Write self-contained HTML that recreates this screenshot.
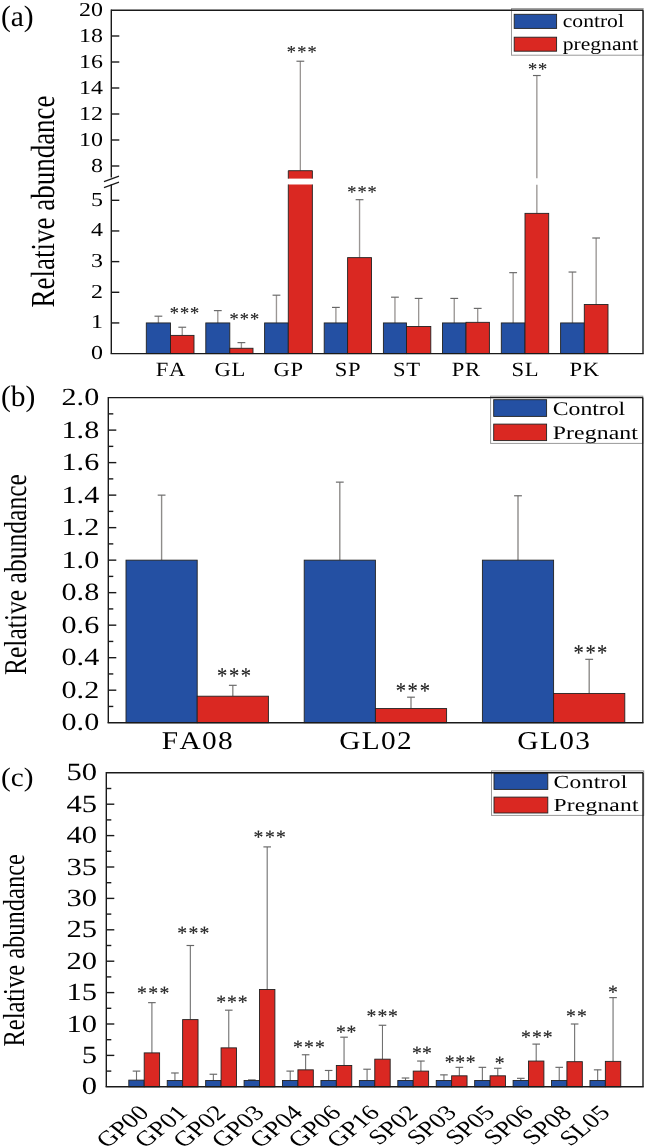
<!DOCTYPE html>
<html><head><meta charset="utf-8"><style>
html,body{margin:0;padding:0;background:#fff;}
svg{display:block;will-change:transform;font-kerning:none;text-rendering:geometricPrecision;font-family:"Liberation Serif",serif;}
</style></head><body>
<svg width="645" height="1148" viewBox="0 0 645 1148">
<rect width="645" height="1148" fill="#fff"/>
<text transform="translate(102.90,359.10) scale(1.21,1)" font-size="19.8" text-anchor="end" fill="#000">0</text>
<line x1="111.30" y1="322.94" x2="119.30" y2="322.94" stroke="#1a1a1a" stroke-width="1.4"/>
<text transform="translate(102.90,328.44) scale(1.21,1)" font-size="19.8" text-anchor="end" fill="#000">1</text>
<line x1="111.30" y1="292.28" x2="119.30" y2="292.28" stroke="#1a1a1a" stroke-width="1.4"/>
<text transform="translate(102.90,297.78) scale(1.21,1)" font-size="19.8" text-anchor="end" fill="#000">2</text>
<line x1="111.30" y1="261.62" x2="119.30" y2="261.62" stroke="#1a1a1a" stroke-width="1.4"/>
<text transform="translate(102.90,267.12) scale(1.21,1)" font-size="19.8" text-anchor="end" fill="#000">3</text>
<line x1="111.30" y1="230.96" x2="119.30" y2="230.96" stroke="#1a1a1a" stroke-width="1.4"/>
<text transform="translate(102.90,236.46) scale(1.21,1)" font-size="19.8" text-anchor="end" fill="#000">4</text>
<line x1="111.30" y1="200.30" x2="119.30" y2="200.30" stroke="#1a1a1a" stroke-width="1.4"/>
<text transform="translate(102.90,205.80) scale(1.21,1)" font-size="19.8" text-anchor="end" fill="#000">5</text>
<line x1="111.30" y1="166.00" x2="119.30" y2="166.00" stroke="#1a1a1a" stroke-width="1.4"/>
<text transform="translate(102.90,171.50) scale(1.21,1)" font-size="19.8" text-anchor="end" fill="#000">8</text>
<line x1="111.30" y1="140.00" x2="119.30" y2="140.00" stroke="#1a1a1a" stroke-width="1.4"/>
<text transform="translate(102.90,145.50) scale(1.21,1)" font-size="19.8" text-anchor="end" fill="#000">10</text>
<line x1="111.30" y1="114.00" x2="119.30" y2="114.00" stroke="#1a1a1a" stroke-width="1.4"/>
<text transform="translate(102.90,119.50) scale(1.21,1)" font-size="19.8" text-anchor="end" fill="#000">12</text>
<line x1="111.30" y1="88.00" x2="119.30" y2="88.00" stroke="#1a1a1a" stroke-width="1.4"/>
<text transform="translate(102.90,93.50) scale(1.21,1)" font-size="19.8" text-anchor="end" fill="#000">14</text>
<line x1="111.30" y1="62.00" x2="119.30" y2="62.00" stroke="#1a1a1a" stroke-width="1.4"/>
<text transform="translate(102.90,67.50) scale(1.21,1)" font-size="19.8" text-anchor="end" fill="#000">16</text>
<line x1="111.30" y1="36.00" x2="119.30" y2="36.00" stroke="#1a1a1a" stroke-width="1.4"/>
<text transform="translate(102.90,41.50) scale(1.21,1)" font-size="19.8" text-anchor="end" fill="#000">18</text>
<text transform="translate(102.90,15.70) scale(1.21,1)" font-size="19.8" text-anchor="end" fill="#000">20</text>
<line x1="158.40" y1="322.94" x2="158.40" y2="316.19" stroke="#9a9694" stroke-width="1.35"/>
<line x1="154.50" y1="316.19" x2="162.30" y2="316.19" stroke="#666666" stroke-width="1.15"/>
<line x1="182.25" y1="335.39" x2="182.25" y2="327.23" stroke="#9a9694" stroke-width="1.35"/>
<line x1="178.35" y1="327.23" x2="186.15" y2="327.23" stroke="#666666" stroke-width="1.15"/>
<rect x="146.30" y="322.94" width="24.20" height="30.66" fill="#2450a3" stroke="#222" stroke-width="0.9"/>
<rect x="170.50" y="335.39" width="23.50" height="18.21" fill="#da2822" stroke="#222" stroke-width="0.9"/>
<text transform="translate(170.84,376.40) scale(1.12,1)" font-size="20.2" text-anchor="middle" fill="#000" letter-spacing="0.6">FA</text>
<line x1="217.80" y1="322.94" x2="217.80" y2="310.61" stroke="#9a9694" stroke-width="1.35"/>
<line x1="213.90" y1="310.61" x2="221.70" y2="310.61" stroke="#666666" stroke-width="1.15"/>
<line x1="241.40" y1="348.27" x2="241.40" y2="342.62" stroke="#9a9694" stroke-width="1.35"/>
<line x1="237.50" y1="342.62" x2="245.30" y2="342.62" stroke="#666666" stroke-width="1.15"/>
<rect x="205.80" y="322.94" width="24.00" height="30.66" fill="#2450a3" stroke="#222" stroke-width="0.9"/>
<rect x="229.80" y="348.27" width="23.20" height="5.33" fill="#da2822" stroke="#222" stroke-width="0.9"/>
<text transform="translate(230.14,376.40) scale(1.12,1)" font-size="20.2" text-anchor="middle" fill="#000" letter-spacing="0.6">GL</text>
<line x1="276.45" y1="322.94" x2="276.45" y2="295.19" stroke="#9a9694" stroke-width="1.35"/>
<line x1="272.55" y1="295.19" x2="280.35" y2="295.19" stroke="#666666" stroke-width="1.15"/>
<line x1="300.35" y1="170.68" x2="300.35" y2="61.22" stroke="#9a9694" stroke-width="1.35"/>
<line x1="296.45" y1="61.22" x2="304.25" y2="61.22" stroke="#666666" stroke-width="1.15"/>
<rect x="264.60" y="322.94" width="23.70" height="30.66" fill="#2450a3" stroke="#222" stroke-width="0.9"/>
<rect x="288.30" y="170.68" width="24.10" height="7.92" fill="#da2822" stroke="none" stroke-width="0.9"/>
<rect x="288.30" y="184.50" width="24.10" height="169.10" fill="#da2822" stroke="none" stroke-width="0.9"/>
<line x1="288.30" y1="170.68" x2="312.40" y2="170.68" stroke="#222" stroke-width="0.9"/>
<line x1="288.30" y1="170.68" x2="288.30" y2="178.60" stroke="#222" stroke-width="0.9"/>
<line x1="288.30" y1="184.50" x2="288.30" y2="353.60" stroke="#222" stroke-width="0.9"/>
<line x1="312.40" y1="170.68" x2="312.40" y2="178.60" stroke="#222" stroke-width="0.9"/>
<line x1="312.40" y1="184.50" x2="312.40" y2="353.60" stroke="#222" stroke-width="0.9"/>
<text transform="translate(288.64,376.40) scale(1.12,1)" font-size="20.2" text-anchor="middle" fill="#000" letter-spacing="0.6">GP</text>
<line x1="335.90" y1="322.94" x2="335.90" y2="307.40" stroke="#9a9694" stroke-width="1.35"/>
<line x1="332.00" y1="307.40" x2="339.80" y2="307.40" stroke="#666666" stroke-width="1.15"/>
<line x1="359.55" y1="257.63" x2="359.55" y2="199.69" stroke="#9a9694" stroke-width="1.35"/>
<line x1="355.65" y1="199.69" x2="363.45" y2="199.69" stroke="#666666" stroke-width="1.15"/>
<rect x="324.20" y="322.94" width="23.40" height="30.66" fill="#2450a3" stroke="#222" stroke-width="0.9"/>
<rect x="347.60" y="257.63" width="23.90" height="95.97" fill="#da2822" stroke="#222" stroke-width="0.9"/>
<text transform="translate(347.94,376.40) scale(1.12,1)" font-size="20.2" text-anchor="middle" fill="#000" letter-spacing="0.6">SP</text>
<line x1="394.95" y1="322.94" x2="394.95" y2="297.19" stroke="#9a9694" stroke-width="1.35"/>
<line x1="391.05" y1="297.19" x2="398.85" y2="297.19" stroke="#666666" stroke-width="1.15"/>
<line x1="418.65" y1="326.50" x2="418.65" y2="298.41" stroke="#9a9694" stroke-width="1.35"/>
<line x1="414.75" y1="298.41" x2="422.55" y2="298.41" stroke="#666666" stroke-width="1.15"/>
<rect x="383.40" y="322.94" width="23.10" height="30.66" fill="#2450a3" stroke="#222" stroke-width="0.9"/>
<rect x="406.50" y="326.50" width="24.30" height="27.10" fill="#da2822" stroke="#222" stroke-width="0.9"/>
<text transform="translate(406.84,376.40) scale(1.12,1)" font-size="20.2" text-anchor="middle" fill="#000" letter-spacing="0.6">ST</text>
<line x1="454.25" y1="322.94" x2="454.25" y2="298.41" stroke="#9a9694" stroke-width="1.35"/>
<line x1="450.35" y1="298.41" x2="458.15" y2="298.41" stroke="#666666" stroke-width="1.15"/>
<line x1="477.70" y1="322.33" x2="477.70" y2="308.38" stroke="#9a9694" stroke-width="1.35"/>
<line x1="473.80" y1="308.38" x2="481.60" y2="308.38" stroke="#666666" stroke-width="1.15"/>
<rect x="442.50" y="322.94" width="23.50" height="30.66" fill="#2450a3" stroke="#222" stroke-width="0.9"/>
<rect x="466.00" y="322.33" width="23.40" height="31.27" fill="#da2822" stroke="#222" stroke-width="0.9"/>
<text transform="translate(466.34,376.40) scale(1.12,1)" font-size="20.2" text-anchor="middle" fill="#000" letter-spacing="0.6">PR</text>
<line x1="513.15" y1="322.94" x2="513.15" y2="272.66" stroke="#9a9694" stroke-width="1.35"/>
<line x1="509.25" y1="272.66" x2="517.05" y2="272.66" stroke="#666666" stroke-width="1.15"/>
<line x1="536.85" y1="213.36" x2="536.85" y2="184.80" stroke="#9a9694" stroke-width="1.35"/>
<line x1="536.85" y1="178.30" x2="536.85" y2="75.52" stroke="#9a9694" stroke-width="1.35"/>
<line x1="532.95" y1="75.52" x2="540.75" y2="75.52" stroke="#666666" stroke-width="1.15"/>
<rect x="501.30" y="322.94" width="23.70" height="30.66" fill="#2450a3" stroke="#222" stroke-width="0.9"/>
<rect x="525.00" y="213.36" width="23.70" height="140.24" fill="#da2822" stroke="#222" stroke-width="0.9"/>
<text transform="translate(525.34,376.40) scale(1.12,1)" font-size="20.2" text-anchor="middle" fill="#000" letter-spacing="0.6">SL</text>
<line x1="572.45" y1="322.94" x2="572.45" y2="272.04" stroke="#9a9694" stroke-width="1.35"/>
<line x1="568.55" y1="272.04" x2="576.35" y2="272.04" stroke="#666666" stroke-width="1.15"/>
<line x1="596.15" y1="304.54" x2="596.15" y2="238.01" stroke="#9a9694" stroke-width="1.35"/>
<line x1="592.25" y1="238.01" x2="600.05" y2="238.01" stroke="#666666" stroke-width="1.15"/>
<rect x="560.60" y="322.94" width="23.70" height="30.66" fill="#2450a3" stroke="#222" stroke-width="0.9"/>
<rect x="584.30" y="304.54" width="23.70" height="49.06" fill="#da2822" stroke="#222" stroke-width="0.9"/>
<text transform="translate(584.64,376.40) scale(1.12,1)" font-size="20.2" text-anchor="middle" fill="#000" letter-spacing="0.6">PK</text>
<text transform="translate(174.40,318.94) scale(1.0,1)" font-size="18.40" text-anchor="middle" fill="#222" stroke="#222" stroke-width="0.15">*</text>
<text transform="translate(184.50,318.94) scale(1.0,1)" font-size="18.40" text-anchor="middle" fill="#222" stroke="#222" stroke-width="0.15">*</text>
<text transform="translate(194.60,318.94) scale(1.0,1)" font-size="18.40" text-anchor="middle" fill="#222" stroke="#222" stroke-width="0.15">*</text>
<text transform="translate(234.20,324.94) scale(1.0,1)" font-size="18.40" text-anchor="middle" fill="#222" stroke="#222" stroke-width="0.15">*</text>
<text transform="translate(244.30,324.94) scale(1.0,1)" font-size="18.40" text-anchor="middle" fill="#222" stroke="#222" stroke-width="0.15">*</text>
<text transform="translate(254.50,324.94) scale(1.0,1)" font-size="18.40" text-anchor="middle" fill="#222" stroke="#222" stroke-width="0.15">*</text>
<text transform="translate(291.30,58.04) scale(1.0,1)" font-size="18.40" text-anchor="middle" fill="#222" stroke="#222" stroke-width="0.15">*</text>
<text transform="translate(301.80,58.04) scale(1.0,1)" font-size="18.40" text-anchor="middle" fill="#222" stroke="#222" stroke-width="0.15">*</text>
<text transform="translate(312.00,58.04) scale(1.0,1)" font-size="18.40" text-anchor="middle" fill="#222" stroke="#222" stroke-width="0.15">*</text>
<text transform="translate(351.80,197.74) scale(1.0,1)" font-size="18.40" text-anchor="middle" fill="#222" stroke="#222" stroke-width="0.15">*</text>
<text transform="translate(362.00,197.74) scale(1.0,1)" font-size="18.40" text-anchor="middle" fill="#222" stroke="#222" stroke-width="0.15">*</text>
<text transform="translate(372.20,197.74) scale(1.0,1)" font-size="18.40" text-anchor="middle" fill="#222" stroke="#222" stroke-width="0.15">*</text>
<text transform="translate(532.60,74.94) scale(1.0,1)" font-size="18.40" text-anchor="middle" fill="#222" stroke="#222" stroke-width="0.15">*</text>
<text transform="translate(542.60,74.94) scale(1.0,1)" font-size="18.40" text-anchor="middle" fill="#222" stroke="#222" stroke-width="0.15">*</text>
<rect x="511.5" y="8.6" width="131.7" height="46.6" fill="#fff" stroke="#999" stroke-width="1"/>
<rect x="514.20" y="14.30" width="42.40" height="14.10" fill="#2450a3" stroke="#222" stroke-width="0.9"/>
<rect x="514.20" y="37.20" width="42.40" height="14.00" fill="#da2822" stroke="#222" stroke-width="0.9"/>
<text transform="translate(562.80,26.60) scale(1.16,1)" font-size="18.6" text-anchor="start" fill="#000">control</text>
<text transform="translate(562.80,50.40) scale(1.16,1)" font-size="18.6" text-anchor="start" fill="#000">pregnant</text>
<line x1="111.30" y1="10.20" x2="643.00" y2="10.20" stroke="#1a1a1a" stroke-width="1.4"/>
<line x1="643.00" y1="10.20" x2="643.00" y2="353.60" stroke="#1a1a1a" stroke-width="1.4"/>
<line x1="110.60" y1="353.60" x2="643.70" y2="353.60" stroke="#1a1a1a" stroke-width="1.4"/>
<line x1="111.30" y1="9.50" x2="111.30" y2="177.60" stroke="#1a1a1a" stroke-width="1.4"/>
<line x1="111.30" y1="184.60" x2="111.30" y2="353.60" stroke="#1a1a1a" stroke-width="1.4"/>
<line x1="104.00" y1="181.60" x2="119.00" y2="176.20" stroke="#1a1a1a" stroke-width="1.3"/>
<line x1="104.00" y1="187.60" x2="119.00" y2="182.20" stroke="#1a1a1a" stroke-width="1.3"/>
<text transform="translate(0.90,26.35) scale(1.0,1)" font-size="29.5" text-anchor="start" fill="#000">(a)</text>
<text transform="translate(53.50,307.56) scale(1.245,1) rotate(-90)" font-size="27.0" text-anchor="start">Relative abundance</text>
<text transform="translate(99.20,730.10) scale(1.22,1)" font-size="24.7" text-anchor="end" fill="#000">0.0</text>
<line x1="108.30" y1="706.45" x2="113.30" y2="706.45" stroke="#1a1a1a" stroke-width="1.4"/>
<line x1="108.30" y1="690.19" x2="116.30" y2="690.19" stroke="#1a1a1a" stroke-width="1.4"/>
<text transform="translate(99.20,697.59) scale(1.22,1)" font-size="24.7" text-anchor="end" fill="#000">0.2</text>
<line x1="108.30" y1="673.94" x2="113.30" y2="673.94" stroke="#1a1a1a" stroke-width="1.4"/>
<line x1="108.30" y1="657.68" x2="116.30" y2="657.68" stroke="#1a1a1a" stroke-width="1.4"/>
<text transform="translate(99.20,665.08) scale(1.22,1)" font-size="24.7" text-anchor="end" fill="#000">0.4</text>
<line x1="108.30" y1="641.43" x2="113.30" y2="641.43" stroke="#1a1a1a" stroke-width="1.4"/>
<line x1="108.30" y1="625.17" x2="116.30" y2="625.17" stroke="#1a1a1a" stroke-width="1.4"/>
<text transform="translate(99.20,632.57) scale(1.22,1)" font-size="24.7" text-anchor="end" fill="#000">0.6</text>
<line x1="108.30" y1="608.92" x2="113.30" y2="608.92" stroke="#1a1a1a" stroke-width="1.4"/>
<line x1="108.30" y1="592.66" x2="116.30" y2="592.66" stroke="#1a1a1a" stroke-width="1.4"/>
<text transform="translate(99.20,600.06) scale(1.22,1)" font-size="24.7" text-anchor="end" fill="#000">0.8</text>
<line x1="108.30" y1="576.40" x2="113.30" y2="576.40" stroke="#1a1a1a" stroke-width="1.4"/>
<line x1="108.30" y1="560.15" x2="116.30" y2="560.15" stroke="#1a1a1a" stroke-width="1.4"/>
<text transform="translate(99.20,567.55) scale(1.22,1)" font-size="24.7" text-anchor="end" fill="#000">1.0</text>
<line x1="108.30" y1="543.89" x2="113.30" y2="543.89" stroke="#1a1a1a" stroke-width="1.4"/>
<line x1="108.30" y1="527.64" x2="116.30" y2="527.64" stroke="#1a1a1a" stroke-width="1.4"/>
<text transform="translate(99.20,535.04) scale(1.22,1)" font-size="24.7" text-anchor="end" fill="#000">1.2</text>
<line x1="108.30" y1="511.38" x2="113.30" y2="511.38" stroke="#1a1a1a" stroke-width="1.4"/>
<line x1="108.30" y1="495.13" x2="116.30" y2="495.13" stroke="#1a1a1a" stroke-width="1.4"/>
<text transform="translate(99.20,502.53) scale(1.22,1)" font-size="24.7" text-anchor="end" fill="#000">1.4</text>
<line x1="108.30" y1="478.88" x2="113.30" y2="478.88" stroke="#1a1a1a" stroke-width="1.4"/>
<line x1="108.30" y1="462.62" x2="116.30" y2="462.62" stroke="#1a1a1a" stroke-width="1.4"/>
<text transform="translate(99.20,470.02) scale(1.22,1)" font-size="24.7" text-anchor="end" fill="#000">1.6</text>
<line x1="108.30" y1="446.37" x2="113.30" y2="446.37" stroke="#1a1a1a" stroke-width="1.4"/>
<line x1="108.30" y1="430.11" x2="116.30" y2="430.11" stroke="#1a1a1a" stroke-width="1.4"/>
<text transform="translate(99.20,437.51) scale(1.22,1)" font-size="24.7" text-anchor="end" fill="#000">1.8</text>
<line x1="108.30" y1="413.86" x2="113.30" y2="413.86" stroke="#1a1a1a" stroke-width="1.4"/>
<text transform="translate(99.20,405.00) scale(1.22,1)" font-size="24.7" text-anchor="end" fill="#000">2.0</text>
<line x1="161.60" y1="560.15" x2="161.60" y2="495.13" stroke="#8e8c8a" stroke-width="1.4"/>
<line x1="157.70" y1="495.13" x2="165.50" y2="495.13" stroke="#666666" stroke-width="1.15"/>
<line x1="232.80" y1="696.20" x2="232.80" y2="685.31" stroke="#8e8c8a" stroke-width="1.4"/>
<line x1="228.90" y1="685.31" x2="236.70" y2="685.31" stroke="#666666" stroke-width="1.15"/>
<rect x="126.00" y="560.15" width="71.20" height="162.55" fill="#2450a3" stroke="#222" stroke-width="0.9"/>
<rect x="197.20" y="696.20" width="71.20" height="26.50" fill="#da2822" stroke="#222" stroke-width="0.9"/>
<text transform="translate(197.89,749.40) scale(1.15,1)" font-size="25.5" text-anchor="middle" fill="#000" letter-spacing="1.2">FA08</text>
<text transform="translate(222.20,683.22) scale(0.92,1)" font-size="22.36" text-anchor="middle" fill="#222" stroke="#222" stroke-width="0.15">*</text>
<text transform="translate(234.20,683.22) scale(0.92,1)" font-size="22.36" text-anchor="middle" fill="#222" stroke="#222" stroke-width="0.15">*</text>
<text transform="translate(245.80,683.22) scale(0.92,1)" font-size="22.36" text-anchor="middle" fill="#222" stroke="#222" stroke-width="0.15">*</text>
<line x1="339.80" y1="560.15" x2="339.80" y2="482.13" stroke="#8e8c8a" stroke-width="1.4"/>
<line x1="335.90" y1="482.13" x2="343.70" y2="482.13" stroke="#666666" stroke-width="1.15"/>
<line x1="411.00" y1="708.56" x2="411.00" y2="697.18" stroke="#8e8c8a" stroke-width="1.4"/>
<line x1="407.10" y1="697.18" x2="414.90" y2="697.18" stroke="#666666" stroke-width="1.15"/>
<rect x="304.20" y="560.15" width="71.20" height="162.55" fill="#2450a3" stroke="#222" stroke-width="0.9"/>
<rect x="375.40" y="708.56" width="71.20" height="14.14" fill="#da2822" stroke="#222" stroke-width="0.9"/>
<text transform="translate(376.09,749.40) scale(1.15,1)" font-size="25.5" text-anchor="middle" fill="#000" letter-spacing="1.2">GL02</text>
<text transform="translate(400.90,697.62) scale(0.92,1)" font-size="22.36" text-anchor="middle" fill="#222" stroke="#222" stroke-width="0.15">*</text>
<text transform="translate(412.70,697.62) scale(0.92,1)" font-size="22.36" text-anchor="middle" fill="#222" stroke="#222" stroke-width="0.15">*</text>
<text transform="translate(424.90,697.62) scale(0.92,1)" font-size="22.36" text-anchor="middle" fill="#222" stroke="#222" stroke-width="0.15">*</text>
<line x1="518.00" y1="560.15" x2="518.00" y2="495.78" stroke="#8e8c8a" stroke-width="1.4"/>
<line x1="514.10" y1="495.78" x2="521.90" y2="495.78" stroke="#666666" stroke-width="1.15"/>
<line x1="589.20" y1="693.44" x2="589.20" y2="659.31" stroke="#8e8c8a" stroke-width="1.4"/>
<line x1="585.30" y1="659.31" x2="593.10" y2="659.31" stroke="#666666" stroke-width="1.15"/>
<rect x="482.40" y="560.15" width="71.20" height="162.55" fill="#2450a3" stroke="#222" stroke-width="0.9"/>
<rect x="553.60" y="693.44" width="71.20" height="29.26" fill="#da2822" stroke="#222" stroke-width="0.9"/>
<text transform="translate(554.29,749.40) scale(1.15,1)" font-size="25.5" text-anchor="middle" fill="#000" letter-spacing="1.2">GL03</text>
<text transform="translate(578.60,659.52) scale(0.92,1)" font-size="22.36" text-anchor="middle" fill="#222" stroke="#222" stroke-width="0.15">*</text>
<text transform="translate(590.60,659.52) scale(0.92,1)" font-size="22.36" text-anchor="middle" fill="#222" stroke="#222" stroke-width="0.15">*</text>
<text transform="translate(602.20,659.52) scale(0.92,1)" font-size="22.36" text-anchor="middle" fill="#222" stroke="#222" stroke-width="0.15">*</text>
<rect x="490.6" y="396.2" width="152.2" height="47.2" fill="#fff" stroke="#999" stroke-width="1"/>
<rect x="493.70" y="399.70" width="52.90" height="16.70" fill="#2450a3" stroke="#222" stroke-width="0.9"/>
<rect x="493.70" y="424.10" width="52.90" height="16.50" fill="#da2822" stroke="#222" stroke-width="0.9"/>
<text transform="translate(552.70,414.70) scale(1.23,1)" font-size="19.3" text-anchor="start" fill="#000">Control</text>
<text transform="translate(552.70,438.60) scale(1.23,1)" font-size="19.3" text-anchor="start" fill="#000" letter-spacing="0.1">Pregnant</text>
<line x1="108.30" y1="397.60" x2="642.80" y2="397.60" stroke="#1a1a1a" stroke-width="1.4"/>
<line x1="642.80" y1="397.60" x2="642.80" y2="722.70" stroke="#1a1a1a" stroke-width="1.4"/>
<line x1="108.30" y1="396.90" x2="108.30" y2="722.70" stroke="#1a1a1a" stroke-width="1.4"/>
<line x1="107.60" y1="722.70" x2="643.50" y2="722.70" stroke="#1a1a1a" stroke-width="1.4"/>
<text transform="translate(0.90,406.30) scale(1.0,1)" font-size="29.5" text-anchor="start" fill="#000">(b)</text>
<text transform="translate(26.00,675.12) scale(1.24,1) rotate(-90)" font-size="25.6" text-anchor="start">Relative abundance</text>
<text transform="translate(97.00,1094.30) scale(1.24,1)" font-size="24.7" text-anchor="end" fill="#000">0</text>
<line x1="106.30" y1="1071.10" x2="111.30" y2="1071.10" stroke="#1a1a1a" stroke-width="1.4"/>
<line x1="106.30" y1="1055.40" x2="114.30" y2="1055.40" stroke="#1a1a1a" stroke-width="1.4"/>
<text transform="translate(97.00,1062.90) scale(1.24,1)" font-size="24.7" text-anchor="end" fill="#000">5</text>
<line x1="106.30" y1="1039.70" x2="111.30" y2="1039.70" stroke="#1a1a1a" stroke-width="1.4"/>
<line x1="106.30" y1="1024.00" x2="114.30" y2="1024.00" stroke="#1a1a1a" stroke-width="1.4"/>
<text transform="translate(97.00,1031.50) scale(1.24,1)" font-size="24.7" text-anchor="end" fill="#000">10</text>
<line x1="106.30" y1="1008.30" x2="111.30" y2="1008.30" stroke="#1a1a1a" stroke-width="1.4"/>
<line x1="106.30" y1="992.60" x2="114.30" y2="992.60" stroke="#1a1a1a" stroke-width="1.4"/>
<text transform="translate(97.00,1000.10) scale(1.24,1)" font-size="24.7" text-anchor="end" fill="#000">15</text>
<line x1="106.30" y1="976.90" x2="111.30" y2="976.90" stroke="#1a1a1a" stroke-width="1.4"/>
<line x1="106.30" y1="961.20" x2="114.30" y2="961.20" stroke="#1a1a1a" stroke-width="1.4"/>
<text transform="translate(97.00,968.70) scale(1.24,1)" font-size="24.7" text-anchor="end" fill="#000">20</text>
<line x1="106.30" y1="945.50" x2="111.30" y2="945.50" stroke="#1a1a1a" stroke-width="1.4"/>
<line x1="106.30" y1="929.80" x2="114.30" y2="929.80" stroke="#1a1a1a" stroke-width="1.4"/>
<text transform="translate(97.00,937.30) scale(1.24,1)" font-size="24.7" text-anchor="end" fill="#000">25</text>
<line x1="106.30" y1="914.10" x2="111.30" y2="914.10" stroke="#1a1a1a" stroke-width="1.4"/>
<line x1="106.30" y1="898.40" x2="114.30" y2="898.40" stroke="#1a1a1a" stroke-width="1.4"/>
<text transform="translate(97.00,905.90) scale(1.24,1)" font-size="24.7" text-anchor="end" fill="#000">30</text>
<line x1="106.30" y1="882.70" x2="111.30" y2="882.70" stroke="#1a1a1a" stroke-width="1.4"/>
<line x1="106.30" y1="867.00" x2="114.30" y2="867.00" stroke="#1a1a1a" stroke-width="1.4"/>
<text transform="translate(97.00,874.50) scale(1.24,1)" font-size="24.7" text-anchor="end" fill="#000">35</text>
<line x1="106.30" y1="851.30" x2="111.30" y2="851.30" stroke="#1a1a1a" stroke-width="1.4"/>
<line x1="106.30" y1="835.60" x2="114.30" y2="835.60" stroke="#1a1a1a" stroke-width="1.4"/>
<text transform="translate(97.00,843.10) scale(1.24,1)" font-size="24.7" text-anchor="end" fill="#000">40</text>
<line x1="106.30" y1="819.90" x2="111.30" y2="819.90" stroke="#1a1a1a" stroke-width="1.4"/>
<line x1="106.30" y1="804.20" x2="114.30" y2="804.20" stroke="#1a1a1a" stroke-width="1.4"/>
<text transform="translate(97.00,811.70) scale(1.24,1)" font-size="24.7" text-anchor="end" fill="#000">45</text>
<line x1="106.30" y1="788.50" x2="111.30" y2="788.50" stroke="#1a1a1a" stroke-width="1.4"/>
<text transform="translate(97.00,780.30) scale(1.24,1)" font-size="24.7" text-anchor="end" fill="#000">50</text>
<line x1="136.50" y1="1080.14" x2="136.50" y2="1071.10" stroke="#707070" stroke-width="1.1"/>
<line x1="132.70" y1="1071.10" x2="140.30" y2="1071.10" stroke="#666666" stroke-width="1.15"/>
<line x1="151.90" y1="1052.89" x2="151.90" y2="1002.65" stroke="#707070" stroke-width="1.1"/>
<line x1="148.10" y1="1002.65" x2="155.70" y2="1002.65" stroke="#666666" stroke-width="1.15"/>
<rect x="128.80" y="1080.14" width="15.40" height="6.66" fill="#2450a3" stroke="#222" stroke-width="0.9"/>
<rect x="144.20" y="1052.89" width="15.40" height="33.91" fill="#da2822" stroke="#222" stroke-width="0.9"/>
<text transform="translate(150.20,1114.00) scale(1.25,1) rotate(-45)" font-size="21.5" text-anchor="end">GP00</text>
<text transform="translate(141.90,999.13) scale(1.06,1)" font-size="18.59" text-anchor="middle" fill="#222" stroke="#222" stroke-width="0.15">*</text>
<text transform="translate(153.20,999.13) scale(1.06,1)" font-size="18.59" text-anchor="middle" fill="#222" stroke="#222" stroke-width="0.15">*</text>
<text transform="translate(164.30,999.13) scale(1.06,1)" font-size="18.59" text-anchor="middle" fill="#222" stroke="#222" stroke-width="0.15">*</text>
<line x1="174.93" y1="1080.52" x2="174.93" y2="1072.98" stroke="#707070" stroke-width="1.1"/>
<line x1="171.13" y1="1072.98" x2="178.73" y2="1072.98" stroke="#666666" stroke-width="1.15"/>
<line x1="190.33" y1="1019.60" x2="190.33" y2="945.50" stroke="#707070" stroke-width="1.1"/>
<line x1="186.53" y1="945.50" x2="194.13" y2="945.50" stroke="#666666" stroke-width="1.15"/>
<rect x="167.23" y="1080.52" width="15.40" height="6.28" fill="#2450a3" stroke="#222" stroke-width="0.9"/>
<rect x="182.63" y="1019.60" width="15.40" height="67.20" fill="#da2822" stroke="#222" stroke-width="0.9"/>
<text transform="translate(188.63,1114.00) scale(1.25,1) rotate(-45)" font-size="21.5" text-anchor="end">GP01</text>
<text transform="translate(182.10,939.43) scale(1.06,1)" font-size="18.59" text-anchor="middle" fill="#222" stroke="#222" stroke-width="0.15">*</text>
<text transform="translate(193.30,939.43) scale(1.06,1)" font-size="18.59" text-anchor="middle" fill="#222" stroke="#222" stroke-width="0.15">*</text>
<text transform="translate(204.40,939.43) scale(1.06,1)" font-size="18.59" text-anchor="middle" fill="#222" stroke="#222" stroke-width="0.15">*</text>
<line x1="213.36" y1="1080.52" x2="213.36" y2="1074.24" stroke="#707070" stroke-width="1.1"/>
<line x1="209.56" y1="1074.24" x2="217.16" y2="1074.24" stroke="#666666" stroke-width="1.15"/>
<line x1="228.76" y1="1047.86" x2="228.76" y2="1010.18" stroke="#707070" stroke-width="1.1"/>
<line x1="224.96" y1="1010.18" x2="232.56" y2="1010.18" stroke="#666666" stroke-width="1.15"/>
<rect x="205.66" y="1080.52" width="15.40" height="6.28" fill="#2450a3" stroke="#222" stroke-width="0.9"/>
<rect x="221.06" y="1047.86" width="15.40" height="38.94" fill="#da2822" stroke="#222" stroke-width="0.9"/>
<text transform="translate(227.06,1114.00) scale(1.25,1) rotate(-45)" font-size="21.5" text-anchor="end">GP02</text>
<text transform="translate(221.20,1008.33) scale(1.06,1)" font-size="18.59" text-anchor="middle" fill="#222" stroke="#222" stroke-width="0.15">*</text>
<text transform="translate(231.90,1008.33) scale(1.06,1)" font-size="18.59" text-anchor="middle" fill="#222" stroke="#222" stroke-width="0.15">*</text>
<text transform="translate(242.70,1008.33) scale(1.06,1)" font-size="18.59" text-anchor="middle" fill="#222" stroke="#222" stroke-width="0.15">*</text>
<line x1="251.79" y1="1080.52" x2="251.79" y2="1079.89" stroke="#707070" stroke-width="1.1"/>
<line x1="247.99" y1="1079.89" x2="255.59" y2="1079.89" stroke="#666666" stroke-width="1.15"/>
<line x1="267.19" y1="989.46" x2="267.19" y2="846.90" stroke="#707070" stroke-width="1.1"/>
<line x1="263.39" y1="846.90" x2="270.99" y2="846.90" stroke="#666666" stroke-width="1.15"/>
<rect x="244.09" y="1080.52" width="15.40" height="6.28" fill="#2450a3" stroke="#222" stroke-width="0.9"/>
<rect x="259.49" y="989.46" width="15.40" height="97.34" fill="#da2822" stroke="#222" stroke-width="0.9"/>
<text transform="translate(265.49,1114.00) scale(1.25,1) rotate(-45)" font-size="21.5" text-anchor="end">GP03</text>
<text transform="translate(258.50,842.63) scale(1.06,1)" font-size="18.59" text-anchor="middle" fill="#222" stroke="#222" stroke-width="0.15">*</text>
<text transform="translate(269.80,842.63) scale(1.06,1)" font-size="18.59" text-anchor="middle" fill="#222" stroke="#222" stroke-width="0.15">*</text>
<text transform="translate(281.00,842.63) scale(1.06,1)" font-size="18.59" text-anchor="middle" fill="#222" stroke="#222" stroke-width="0.15">*</text>
<line x1="290.22" y1="1080.52" x2="290.22" y2="1071.10" stroke="#707070" stroke-width="1.1"/>
<line x1="286.42" y1="1071.10" x2="294.02" y2="1071.10" stroke="#666666" stroke-width="1.15"/>
<line x1="305.62" y1="1069.84" x2="305.62" y2="1054.77" stroke="#707070" stroke-width="1.1"/>
<line x1="301.82" y1="1054.77" x2="309.42" y2="1054.77" stroke="#666666" stroke-width="1.15"/>
<rect x="282.52" y="1080.52" width="15.40" height="6.28" fill="#2450a3" stroke="#222" stroke-width="0.9"/>
<rect x="297.92" y="1069.84" width="15.40" height="16.96" fill="#da2822" stroke="#222" stroke-width="0.9"/>
<text transform="translate(303.92,1114.00) scale(1.25,1) rotate(-45)" font-size="21.5" text-anchor="end">GP04</text>
<text transform="translate(297.80,1053.33) scale(1.06,1)" font-size="18.59" text-anchor="middle" fill="#222" stroke="#222" stroke-width="0.15">*</text>
<text transform="translate(308.90,1053.33) scale(1.06,1)" font-size="18.59" text-anchor="middle" fill="#222" stroke="#222" stroke-width="0.15">*</text>
<text transform="translate(320.00,1053.33) scale(1.06,1)" font-size="18.59" text-anchor="middle" fill="#222" stroke="#222" stroke-width="0.15">*</text>
<line x1="328.65" y1="1080.52" x2="328.65" y2="1070.47" stroke="#707070" stroke-width="1.1"/>
<line x1="324.85" y1="1070.47" x2="332.45" y2="1070.47" stroke="#666666" stroke-width="1.15"/>
<line x1="344.05" y1="1065.45" x2="344.05" y2="1037.19" stroke="#707070" stroke-width="1.1"/>
<line x1="340.25" y1="1037.19" x2="347.85" y2="1037.19" stroke="#666666" stroke-width="1.15"/>
<rect x="320.95" y="1080.52" width="15.40" height="6.28" fill="#2450a3" stroke="#222" stroke-width="0.9"/>
<rect x="336.35" y="1065.45" width="15.40" height="21.35" fill="#da2822" stroke="#222" stroke-width="0.9"/>
<text transform="translate(342.35,1114.00) scale(1.25,1) rotate(-45)" font-size="21.5" text-anchor="end">GP06</text>
<text transform="translate(340.90,1037.83) scale(1.06,1)" font-size="18.59" text-anchor="middle" fill="#222" stroke="#222" stroke-width="0.15">*</text>
<text transform="translate(351.50,1037.83) scale(1.06,1)" font-size="18.59" text-anchor="middle" fill="#222" stroke="#222" stroke-width="0.15">*</text>
<line x1="367.08" y1="1080.52" x2="367.08" y2="1069.22" stroke="#707070" stroke-width="1.1"/>
<line x1="363.28" y1="1069.22" x2="370.88" y2="1069.22" stroke="#666666" stroke-width="1.15"/>
<line x1="382.48" y1="1059.17" x2="382.48" y2="1025.26" stroke="#707070" stroke-width="1.1"/>
<line x1="378.68" y1="1025.26" x2="386.28" y2="1025.26" stroke="#666666" stroke-width="1.15"/>
<rect x="359.38" y="1080.52" width="15.40" height="6.28" fill="#2450a3" stroke="#222" stroke-width="0.9"/>
<rect x="374.78" y="1059.17" width="15.40" height="27.63" fill="#da2822" stroke="#222" stroke-width="0.9"/>
<text transform="translate(380.78,1114.00) scale(1.25,1) rotate(-45)" font-size="21.5" text-anchor="end">GP16</text>
<text transform="translate(371.50,1021.53) scale(1.06,1)" font-size="18.59" text-anchor="middle" fill="#222" stroke="#222" stroke-width="0.15">*</text>
<text transform="translate(382.30,1021.53) scale(1.06,1)" font-size="18.59" text-anchor="middle" fill="#222" stroke="#222" stroke-width="0.15">*</text>
<text transform="translate(393.00,1021.53) scale(1.06,1)" font-size="18.59" text-anchor="middle" fill="#222" stroke="#222" stroke-width="0.15">*</text>
<line x1="405.51" y1="1080.52" x2="405.51" y2="1078.01" stroke="#707070" stroke-width="1.1"/>
<line x1="401.71" y1="1078.01" x2="409.31" y2="1078.01" stroke="#666666" stroke-width="1.15"/>
<line x1="420.91" y1="1071.10" x2="420.91" y2="1061.05" stroke="#707070" stroke-width="1.1"/>
<line x1="417.11" y1="1061.05" x2="424.71" y2="1061.05" stroke="#666666" stroke-width="1.15"/>
<rect x="397.81" y="1080.52" width="15.40" height="6.28" fill="#2450a3" stroke="#222" stroke-width="0.9"/>
<rect x="413.21" y="1071.10" width="15.40" height="15.70" fill="#da2822" stroke="#222" stroke-width="0.9"/>
<text transform="translate(419.21,1114.00) scale(1.25,1) rotate(-45)" font-size="21.5" text-anchor="end">SP02</text>
<text transform="translate(417.00,1058.93) scale(1.06,1)" font-size="18.59" text-anchor="middle" fill="#222" stroke="#222" stroke-width="0.15">*</text>
<text transform="translate(427.00,1058.93) scale(1.06,1)" font-size="18.59" text-anchor="middle" fill="#222" stroke="#222" stroke-width="0.15">*</text>
<line x1="443.94" y1="1080.52" x2="443.94" y2="1074.87" stroke="#707070" stroke-width="1.1"/>
<line x1="440.14" y1="1074.87" x2="447.74" y2="1074.87" stroke="#666666" stroke-width="1.15"/>
<line x1="459.34" y1="1075.81" x2="459.34" y2="1067.33" stroke="#707070" stroke-width="1.1"/>
<line x1="455.54" y1="1067.33" x2="463.14" y2="1067.33" stroke="#666666" stroke-width="1.15"/>
<rect x="436.24" y="1080.52" width="15.40" height="6.28" fill="#2450a3" stroke="#222" stroke-width="0.9"/>
<rect x="451.64" y="1075.81" width="15.40" height="10.99" fill="#da2822" stroke="#222" stroke-width="0.9"/>
<text transform="translate(457.64,1114.00) scale(1.25,1) rotate(-45)" font-size="21.5" text-anchor="end">SP03</text>
<text transform="translate(449.70,1068.43) scale(1.06,1)" font-size="18.59" text-anchor="middle" fill="#222" stroke="#222" stroke-width="0.15">*</text>
<text transform="translate(460.20,1068.43) scale(1.06,1)" font-size="18.59" text-anchor="middle" fill="#222" stroke="#222" stroke-width="0.15">*</text>
<text transform="translate(470.70,1068.43) scale(1.06,1)" font-size="18.59" text-anchor="middle" fill="#222" stroke="#222" stroke-width="0.15">*</text>
<line x1="482.37" y1="1080.52" x2="482.37" y2="1067.33" stroke="#707070" stroke-width="1.1"/>
<line x1="478.57" y1="1067.33" x2="486.17" y2="1067.33" stroke="#666666" stroke-width="1.15"/>
<line x1="497.77" y1="1075.81" x2="497.77" y2="1068.27" stroke="#707070" stroke-width="1.1"/>
<line x1="493.97" y1="1068.27" x2="501.57" y2="1068.27" stroke="#666666" stroke-width="1.15"/>
<rect x="474.67" y="1080.52" width="15.40" height="6.28" fill="#2450a3" stroke="#222" stroke-width="0.9"/>
<rect x="490.07" y="1075.81" width="15.40" height="10.99" fill="#da2822" stroke="#222" stroke-width="0.9"/>
<text transform="translate(496.07,1114.00) scale(1.25,1) rotate(-45)" font-size="21.5" text-anchor="end">SP05</text>
<text transform="translate(499.60,1068.63) scale(1.06,1)" font-size="18.59" text-anchor="middle" fill="#222" stroke="#222" stroke-width="0.15">*</text>
<line x1="520.80" y1="1080.52" x2="520.80" y2="1078.32" stroke="#707070" stroke-width="1.1"/>
<line x1="517.00" y1="1078.32" x2="524.60" y2="1078.32" stroke="#666666" stroke-width="1.15"/>
<line x1="536.20" y1="1061.05" x2="536.20" y2="1044.10" stroke="#707070" stroke-width="1.1"/>
<line x1="532.40" y1="1044.10" x2="540.00" y2="1044.10" stroke="#666666" stroke-width="1.15"/>
<rect x="513.10" y="1080.52" width="15.40" height="6.28" fill="#2450a3" stroke="#222" stroke-width="0.9"/>
<rect x="528.50" y="1061.05" width="15.40" height="25.75" fill="#da2822" stroke="#222" stroke-width="0.9"/>
<text transform="translate(534.50,1114.00) scale(1.25,1) rotate(-45)" font-size="21.5" text-anchor="end">SP06</text>
<text transform="translate(525.80,1043.43) scale(1.06,1)" font-size="18.59" text-anchor="middle" fill="#222" stroke="#222" stroke-width="0.15">*</text>
<text transform="translate(536.80,1043.43) scale(1.06,1)" font-size="18.59" text-anchor="middle" fill="#222" stroke="#222" stroke-width="0.15">*</text>
<text transform="translate(547.70,1043.43) scale(1.06,1)" font-size="18.59" text-anchor="middle" fill="#222" stroke="#222" stroke-width="0.15">*</text>
<line x1="559.23" y1="1080.52" x2="559.23" y2="1067.33" stroke="#707070" stroke-width="1.1"/>
<line x1="555.43" y1="1067.33" x2="563.03" y2="1067.33" stroke="#666666" stroke-width="1.15"/>
<line x1="574.63" y1="1061.68" x2="574.63" y2="1024.00" stroke="#707070" stroke-width="1.1"/>
<line x1="570.83" y1="1024.00" x2="578.43" y2="1024.00" stroke="#666666" stroke-width="1.15"/>
<rect x="551.53" y="1080.52" width="15.40" height="6.28" fill="#2450a3" stroke="#222" stroke-width="0.9"/>
<rect x="566.93" y="1061.68" width="15.40" height="25.12" fill="#da2822" stroke="#222" stroke-width="0.9"/>
<text transform="translate(572.93,1114.00) scale(1.25,1) rotate(-45)" font-size="21.5" text-anchor="end">SP08</text>
<text transform="translate(571.00,1021.93) scale(1.06,1)" font-size="18.59" text-anchor="middle" fill="#222" stroke="#222" stroke-width="0.15">*</text>
<text transform="translate(581.80,1021.93) scale(1.06,1)" font-size="18.59" text-anchor="middle" fill="#222" stroke="#222" stroke-width="0.15">*</text>
<line x1="597.66" y1="1080.52" x2="597.66" y2="1069.84" stroke="#707070" stroke-width="1.1"/>
<line x1="593.86" y1="1069.84" x2="601.46" y2="1069.84" stroke="#666666" stroke-width="1.15"/>
<line x1="613.06" y1="1061.37" x2="613.06" y2="997.62" stroke="#707070" stroke-width="1.1"/>
<line x1="609.26" y1="997.62" x2="616.86" y2="997.62" stroke="#666666" stroke-width="1.15"/>
<rect x="589.96" y="1080.52" width="15.40" height="6.28" fill="#2450a3" stroke="#222" stroke-width="0.9"/>
<rect x="605.36" y="1061.37" width="15.40" height="25.43" fill="#da2822" stroke="#222" stroke-width="0.9"/>
<text transform="translate(611.36,1114.00) scale(1.25,1) rotate(-45)" font-size="21.5" text-anchor="end">SL05</text>
<text transform="translate(612.90,997.53) scale(1.06,1)" font-size="18.59" text-anchor="middle" fill="#222" stroke="#222" stroke-width="0.15">*</text>
<rect x="491.5" y="770.9" width="152.2" height="44.5" fill="#fff" stroke="#999" stroke-width="1"/>
<rect x="494.00" y="773.60" width="53.80" height="15.80" fill="#2450a3" stroke="#222" stroke-width="0.9"/>
<rect x="494.00" y="797.10" width="53.80" height="15.90" fill="#da2822" stroke="#222" stroke-width="0.9"/>
<text transform="translate(553.60,787.90) scale(1.27,1)" font-size="18.5" text-anchor="start" fill="#000" letter-spacing="0.25">Control</text>
<text transform="translate(553.60,810.70) scale(1.27,1)" font-size="18.5" text-anchor="start" fill="#000" letter-spacing="0.15">Pregnant</text>
<line x1="106.30" y1="772.80" x2="643.00" y2="772.80" stroke="#1a1a1a" stroke-width="1.4"/>
<line x1="643.00" y1="772.80" x2="643.00" y2="1086.80" stroke="#1a1a1a" stroke-width="1.4"/>
<line x1="106.30" y1="772.10" x2="106.30" y2="1086.80" stroke="#1a1a1a" stroke-width="1.4"/>
<line x1="105.60" y1="1086.80" x2="643.70" y2="1086.80" stroke="#1a1a1a" stroke-width="1.4"/>
<text transform="translate(0.90,786.30) scale(1.1,1)" font-size="26.6" text-anchor="start" fill="#000">(c)</text>
<text transform="translate(24.20,1046.59) scale(1.24,1) rotate(-90)" font-size="24.5" text-anchor="start">Relative abundance</text>
</svg>
</body></html>
